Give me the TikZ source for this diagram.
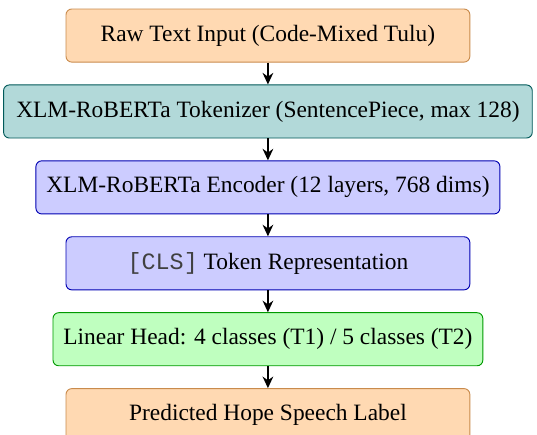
\documentclass[tikz,border=0pt]{standalone}
\usepackage{fontspec}
\setmainfont{Liberation Serif}
\setmonofont{Liberation Mono}
\usepackage{tikz}
\usetikzlibrary{arrows.meta,positioning}

\begin{document}
\begin{tikzpicture}[->,>={Stealth[length=5pt,width=4.6pt,inset=1.6pt]},thick,node distance=9.5pt,
  every node/.style={font=\fontsize{10.15}{12}\selectfont}]
\tikzstyle{stage}=[rectangle,rounded corners=2.5pt,thin,minimum width=175pt,minimum height=23pt,inner sep=4.5pt,align=center]
\tikzstyle{io}=[stage,draw=orange!70!black!70,fill=orange!30]
\tikzstyle{tok}=[stage,draw=teal!70!black,fill=teal!30,inner xsep=5.5pt]
\tikzstyle{enc}=[stage,draw=blue!70!black,fill=blue!20]
\tikzstyle{head}=[stage,draw=green!60!black,fill=green!25]
\useasboundingbox (0,0) rectangle (232.7pt,-188.1pt);
\node[io] (input) at (116.1pt,-15.4pt) {Raw Text Input (Code-Mixed Tulu)};
\node[tok][below=of input](tokenizer){XLM-RoBERTa Tokenizer (SentencePiece, max 128)};
\node[enc][below=of tokenizer](encoder){XLM-RoBERTa Encoder (12 layers, 768 dims)};
\node[enc][below=of encoder](cls){{\color{black!75}\texttt{[CLS]}} Token Representation};
\node[head][below=of cls](linear){Linear Head: 4 classes (T1) / 5 classes (T2)};
\node[io][below=of linear](output){Predicted Hope Speech Label};
\path (input)edge(tokenizer)
      (tokenizer)edge(encoder)
      (encoder)edge(cls)
      (cls)edge(linear)
      (linear)edge(output);
\end{tikzpicture}
\end{document}
